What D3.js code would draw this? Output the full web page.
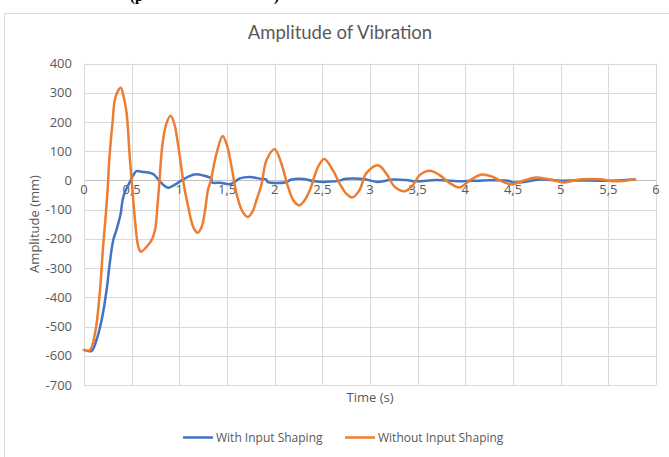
<!DOCTYPE html>
<html>
<head>
<meta charset="utf-8">
<script src="https://cdn.jsdelivr.net/npm/d3@7"></script>
<style>
  body { margin: 0; background: #fff; }
  svg { display: block; font-family: "Open Sans", Lato, sans-serif; }
</style>
</head>
<body>
<div id="chart"></div>
<script>
// values
var withTime = [0, 0.08, 0.13, 0.185, 0.237, 0.27, 0.307, 0.34, 0.385, 0.405, 0.43, 0.482, 0.517, 0.55, 0.6, 0.674, 0.71, 0.74, 0.8, 0.85, 0.89, 0.95, 1.0, 1.05, 1.1, 1.18, 1.25, 1.32, 1.335, 1.345, 1.43, 1.53, 1.58, 1.635, 1.74, 1.86, 1.91, 1.925, 2.12, 2.175, 2.3, 2.4, 2.54, 2.7, 2.72, 2.93, 3.07, 3.24, 3.38, 3.487, 3.7, 3.976, 4.19, 4.45, 4.5, 4.6, 4.78, 5.0, 5.2, 5.4, 5.6, 5.78];
var withAmp = [-580, -583, -547, -478, -375, -284, -204, -170, -113, -67, -39, -5, 18, 32, 30, 27, 24, 18, -5, -20, -25, -15, -5, 5, 14, 21, 17, 10, 8, -7, -8, -13, -5, 7, 12, 5, 4, -5, -6, 3, 5, -2, -5, 1, 4, 5, -5, 3, 1, -3, 1, -3, 0, -1, -7, -6, 3, -1, 0, -1, 0, 3];

var withoutTime = [0, 0.06, 0.115, 0.168, 0.2, 0.23, 0.25, 0.265, 0.3, 0.33, 0.385, 0.42, 0.447, 0.482, 0.5, 0.535, 0.57, 0.597, 0.657, 0.71, 0.745, 0.77, 0.79, 0.82, 0.86, 0.909, 0.95, 0.99, 1.05, 1.093, 1.146, 1.19, 1.234, 1.27, 1.3, 1.33, 1.39, 1.454, 1.5, 1.548, 1.6, 1.66, 1.72, 1.77, 1.81, 1.86, 1.915, 2.0, 2.07, 2.14, 2.2, 2.26, 2.31, 2.37, 2.456, 2.52, 2.61, 2.68, 2.75, 2.816, 2.89, 2.96, 3.085, 3.17, 3.26, 3.365, 3.45, 3.52, 3.627, 3.73, 3.84, 3.94, 4.05, 4.17, 4.28, 4.395, 4.5, 4.605, 4.745, 4.84, 4.92, 5.03, 5.13, 5.23, 5.41, 5.55, 5.65, 5.76, 5.78];
var withoutAmp = [-580, -581, -524, -375, -227, -113, -20, 70, 200, 285, 317, 280, 230, 70, 1, -136, -227, -244, -227, -204, -170, -90, -10, 115, 190, 221, 190, 115, -20, -90, -159, -179, -159, -102, -33, 0, 92, 152, 120, 47, -45, -105, -125, -105, -67, -16, 70, 107, 58, -22, -70, -85, -70, -33, 47, 73, 35, -10, -45, -58, -33, 24, 52, 24, -22, -37, -16, 18, 33, 18, -10, -24, 1, 20, 13, -5, -14, -1, 10, 6, 1, -7, -1, 4, 4, -3, -2, 3, 2];

var seriesNames = ["With Input Shaping", "Without Input Shaping"];
var seriesColors = ["#4472C4", "#ED7D31"];
var xTicks = [0, 0.5, 1, 1.5, 2, 2.5, 3, 3.5, 4, 4.5, 5, 5.5, 6];
var yTicks = [400, 300, 200, 100, 0, -100, -200, -300, -400, -500, -600, -700];

var W = 669, H = 457;
var margin = {top: 63.5, left: 84, right: 13, bottom: 72};

var svg = d3.select("#chart").append("svg")
    .attr("width", W)
    .attr("height", H);

// bits of the page text above the chart (cut off in the picture too)
svg.append("text").attr("x", 130).attr("y", 1)
    .style("font-family", "'Liberation Serif', serif").style("font-weight", "bold")
    .style("font-size", "15px").attr("fill", "#000").text("(p");
svg.append("text").attr("x", 274).attr("y", 1)
    .style("font-family", "'Liberation Serif', serif").style("font-weight", "bold")
    .style("font-size", "15px").attr("fill", "#000").text(")");

// chart frame
svg.append("rect")
    .attr("x", 4.5).attr("y", 13.5)
    .attr("width", 720).attr("height", 520)
    .attr("fill", "#fff")
    .attr("stroke", "#d9d9d9");

var x = d3.scaleLinear().domain([0, 6]).range([margin.left, W - margin.right]);
var y = d3.scaleLinear().domain([-700, 400]).range([H - margin.bottom, margin.top]);

// gridlines
svg.append("g").selectAll("line").data(yTicks).enter().append("line")
    .attr("x1", x(0)).attr("x2", x(6))
    .attr("y1", function(d) { return Math.round(y(d)) + 0.5; })
    .attr("y2", function(d) { return Math.round(y(d)) + 0.5; })
    .attr("stroke", function(d) { return d === 0 ? "#bfbfbf" : "#d9d9d9"; });

svg.append("g").selectAll("line").data(xTicks).enter().append("line")
    .attr("x1", function(d) { return Math.round(x(d)) + 0.5; })
    .attr("x2", function(d) { return Math.round(x(d)) + 0.5; })
    .attr("y1", y(400)).attr("y2", y(-700))
    .attr("stroke", "#d9d9d9");

// y tick labels
svg.append("g").selectAll("text").data(yTicks).enter().append("text")
    .attr("x", 72)
    .attr("y", function(d) { return y(d); })
    .attr("dy", "0.35em")
    .attr("text-anchor", "end")
    .attr("fill", "#595959")
    .style("font-size", "13px")
    .text(function(d) { return d; });

// x tick labels (sit under the zero line, decimal comma)
svg.append("g").selectAll("text").data(xTicks).enter().append("text")
    .attr("x", function(d) { return x(d); })
    .attr("y", y(0) + 14)
    .attr("text-anchor", "middle")
    .attr("fill", "#595959")
    .style("font-size", "13px")
    .text(function(d) { return String(d).replace(".", ","); });

// lines
var line = d3.line()
    .x(function(d) { return x(d[0]); })
    .y(function(d) { return y(d[1]); })
    .curve(d3.curveCatmullRom.alpha(0.5));

var series = [d3.zip(withTime, withAmp), d3.zip(withoutTime, withoutAmp)];

svg.append("g").selectAll("path").data(series).enter().append("path")
    .attr("d", line)
    .attr("fill", "none")
    .attr("stroke", function(d, i) { return seriesColors[i]; })
    .attr("stroke-width", 2.5)
    .attr("stroke-linejoin", "round")
    .attr("stroke-linecap", "round");

// title
svg.append("text")
    .attr("x", 340).attr("y", 39)
    .attr("text-anchor", "middle")
    .attr("fill", "#595959")
    .style("font-family", "Lato, sans-serif")
    .style("font-size", "18.5px")
    .text("Amplitude of Vibration");

// axis titles
svg.append("text")
    .attr("transform", "translate(39," + 224 + ") rotate(-90)")
    .attr("text-anchor", "middle")
    .attr("fill", "#595959")
    .style("font-size", "13px")
    .text("Amplitude (mm)");

svg.append("text")
    .attr("x", 370).attr("y", 402)
    .attr("text-anchor", "middle")
    .attr("fill", "#595959")
    .style("font-size", "13px")
    .text("Time (s)");

// legend
var legendX = [183, 345];
var legend = svg.append("g").selectAll("g").data(seriesNames).enter().append("g")
    .attr("transform", function(d, i) { return "translate(" + legendX[i] + ",437.5)"; });

legend.append("line")
    .attr("x1", 0).attr("x2", 30)
    .attr("stroke", function(d, i) { return seriesColors[i]; })
    .attr("stroke-width", 2.5);

legend.append("text")
    .attr("x", 33).attr("dy", "0.35em")
    .attr("fill", "#595959")
    .style("font-size", "12px")
    .text(function(d) { return d; });
</script>
</body>
</html>
